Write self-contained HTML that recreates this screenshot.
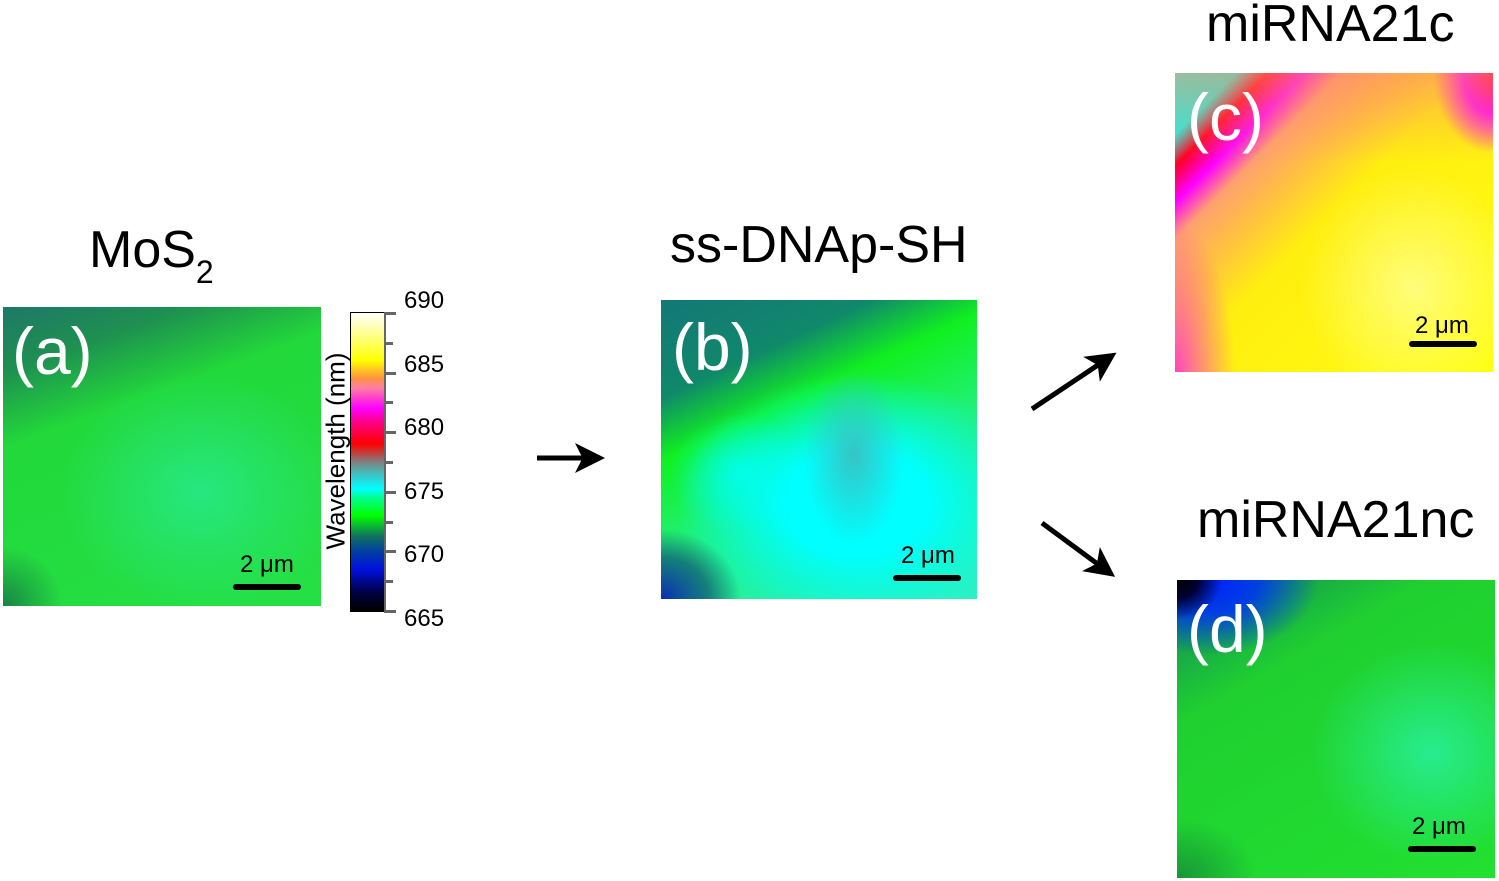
<!DOCTYPE html>
<html><head><meta charset="utf-8"><style>
body{margin:0;width:1499px;height:881px;background:#fff;position:relative;overflow:hidden;font-family:"Liberation Sans",Arial,sans-serif}
.abs{position:absolute}
.panel{position:absolute;overflow:hidden}
.lbl{position:absolute;color:#fff;font-size:66px;line-height:1}
.sb{position:absolute;width:68px;height:6px;background:#000;border-radius:3px}
.sbt{position:absolute;font-size:24px;color:#000;line-height:1}
.title{position:absolute;font-size:52px;color:#000;line-height:1;white-space:nowrap}
.tick{position:absolute;font-size:24px;color:#000;line-height:1}
</style></head><body>

<div class="title" style="left:89px;top:224px">MoS<sub style="font-size:32px;vertical-align:-16px">2</sub></div>
<div class="title" style="left:670px;top:219px">ss-DNAp-SH</div>
<div class="title" style="left:1206px;top:-2px">miRNA21c</div>
<div class="title" style="left:1197px;top:494px">miRNA21nc</div>

<!-- Panel a -->
<div class="panel" style="left:3px;top:307px;width:318px;height:299px;
background:
radial-gradient(ellipse 60px 60px at 0% 100%, rgba(20,110,70,0.8), rgba(20,110,70,0) ),
radial-gradient(ellipse 140px 120px at 62% 62%, rgba(40,235,150,0.75), rgba(40,235,150,0)),
linear-gradient(160deg, #1e7868 0%, #1e9050 16%, #22d83a 34%, #25e045 100%);"></div>
<div class="lbl" style="left:12px;top:318px">(a)</div>
<div class="sbt" style="left:240px;top:553px">2 μm</div>
<div class="sb" style="left:233px;top:584px"></div>

<!-- Colorbar -->
<div class="abs" style="left:350px;top:312px;width:33px;height:298px;border:1px solid #000;
background:linear-gradient(to top,#000 0%,#000040 6%,#0010e0 14%,#0040a0 20%,#107060 25%,#00ff00 32%,#00ff90 38%,#00ffff 41%,#40c0c0 46%,#808080 50%,#ff0000 56%,#ff0080 63%,#ff00ff 68%,#ff80a0 75%,#ff9040 78%,#ffff00 84%,#ffffa0 94%,#ffffff 100%)"></div>
<div class="abs" style="left:384px;top:313px;width:2px;height:298px;background:#666"></div>
<div id="ticks"></div>
<div class="abs" style="left:336px;top:451px;transform:translate(-50%,-50%) rotate(-90deg);font-size:26px;white-space:nowrap">Wavelength (nm)</div>

<!-- Arrows -->
<svg class="abs" style="left:0;top:0" width="1499" height="881">
<defs><marker id="ah" markerWidth="6" markerHeight="6" refX="3" refY="3" orient="auto"><path d="M0,0 L6,3 L0,6 L1.5,3 z" fill="#000"/></marker></defs>
<line x1="537" y1="458" x2="590" y2="458" stroke="#000" stroke-width="5" marker-end="url(#ah)"/>
<line x1="1032" y1="409" x2="1104" y2="361" stroke="#000" stroke-width="5" marker-end="url(#ah)"/>
<line x1="1042" y1="523" x2="1103" y2="568" stroke="#000" stroke-width="5" marker-end="url(#ah)"/>
</svg>

<!-- Panel b -->
<div class="panel" style="left:661px;top:300px;width:316px;height:299px;
background:
radial-gradient(ellipse 80px 70px at 0% 100%, #0a30b0 0%, rgba(16,100,120,0.8) 60%, rgba(16,100,120,0) 100%),
radial-gradient(ellipse 50px 90px at 61% 52%, rgba(60,190,190,0.9), rgba(60,190,190,0)),
radial-gradient(ellipse 180px 130px at 62% 68%, rgba(0,255,255,1) 40%, rgba(0,255,255,0) 100%),
radial-gradient(ellipse 70px 60px at 25% 58%, rgba(0,255,220,0.9), rgba(0,255,220,0)),
linear-gradient(155deg, #137878 0%, #10886a 22%, #10f020 36%, #20f070 55%, #30f0c0 100%);"></div>
<div class="lbl" style="left:672px;top:314px">(b)</div>
<div class="sbt" style="left:901px;top:544px">2 μm</div>
<div class="sb" style="left:893px;top:575px"></div>

<!-- Panel c -->
<div class="panel" style="left:1175px;top:73px;width:318px;height:299px;
background:
radial-gradient(ellipse 60px 80px at 100% 0%, #ff0040 0%, #ff00ff 50%, rgba(255,100,200,0) 100%),
radial-gradient(ellipse 110px 120px at 75% 72%, rgba(255,255,150,0.8), rgba(255,255,150,0)),
radial-gradient(ellipse 60px 150px at 0% 100%, rgba(255,60,200,0.95), rgba(255,60,200,0)),
linear-gradient(135deg, #20f8e8 0%, #20f0e0 10%, #ff0020 15%, #ff00ff 21%, #ffa070 27%, #ffc040 36%, #ffee10 48%, #ffff10 100%);"></div>
<div class="abs" style="left:1175px;top:73px;width:318px;height:90px;background:linear-gradient(to bottom,rgba(255,140,100,0.55),rgba(255,140,100,0));pointer-events:none"></div>
<div class="lbl" style="left:1187px;top:84px">(c)</div>
<div class="sbt" style="left:1415px;top:314px">2 μm</div>
<div class="sb" style="left:1409px;top:341px"></div>

<!-- Panel d -->
<div class="panel" style="left:1177px;top:580px;width:318px;height:298px;
background:
radial-gradient(ellipse 45px 40px at 0% 0%, #000 0%, #000030 45%, rgba(0,0,80,0) 100%),
radial-gradient(ellipse 110px 75px at 10% 0%, #0020ff 0%, #0040e0 45%, rgba(0,120,150,0) 100%),
radial-gradient(ellipse 80px 60px at 0% 100%, rgba(20,120,60,0.7), rgba(20,120,60,0)),
radial-gradient(ellipse 120px 110px at 80% 58%, rgba(40,240,160,0.85), rgba(40,240,160,0)),
linear-gradient(150deg, #108060 0%, #1fd030 30%, #22e030 100%);"></div>
<div class="lbl" style="left:1187px;top:596px">(d)</div>
<div class="sbt" style="left:1412px;top:815px">2 μm</div>
<div class="sb" style="left:1408px;top:846px"></div>

<script>
const tickValues=[665,670,675,680,685,690];
const minorValues=[667.5,672.5,677.5,682.5,687.5];
const vmin=665,vmax=690,top0=313,h=298;
const y=v=>top0+h-(v-vmin)/(vmax-vmin)*h;
const ly=v=>301+(vmax-v)/(vmax-vmin)*318;
const host=document.getElementById('ticks');
tickValues.forEach(v=>{
  const t=document.createElement('div');
  
  
  t.className='tick';t.style.left='404px';t.style.top=(ly(v)-12)+'px';t.textContent=v;host.appendChild(t);
  const m=document.createElement('div');
  
  
  m.className='abs';m.style.cssText='left:384px;width:12px;height:3px;background:#666;top:'+(y(v)-1)+'px';host.appendChild(m);
});
minorValues.forEach(v=>{
  const m=document.createElement('div');
  
  
  m.className='abs';m.style.cssText='left:384px;width:9px;height:3px;background:#666;top:'+(y(v)-1)+'px';host.appendChild(m);
});
</script>
</body></html>
